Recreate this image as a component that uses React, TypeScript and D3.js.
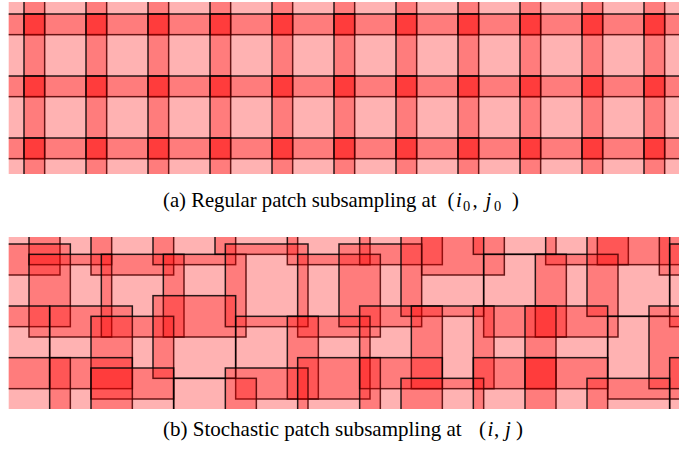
import React from 'react';
import * as d3 from 'd3';

// Regular grid: patch origins (grid units), patch size 8 units, stride 6
const gridCols = [-6, 0, 6, 12, 18, 24, 30, 36, 42, 48, 54, 60];
const gridRows = [-6, 0, 6, 12];
const patchSize = 8;

// Stochastic patches: origins (grid units), row-major
const stochCol = [
  -5, 0, 6, 12, 18, 25, 32, 38, 43, 50, 55, 61,
  -4, 0, 7, 13, 19, 26, 30, 36, 44, 49, 54, 62,
  -6, 2, 6, 12, 20, 25, 32, 37, 43, 48, 56, 60,
  -4, 2, 6, 14, 19, 26, 32, 36, 43, 48, 54, 62,
];
const stochRow = [
  -5, -6, -5, -6, -7, -6, -6, -5, -7, -6, -6, -5,
  0, 1, 1, 1, 0, 1, 0, -1, 1, 1, -1, 0,
  6, 6, 7, 5, 7, 7, 6, 6, 6, 6, 7, 6,
  11, 11, 12, 13, 12, 11, 11, 13, 11, 11, 13, 11,
];

const captionA = ['(a) Regular patch subsampling at', 'i', '0', 'j', '0'];
const captionB = ['(b) Stochastic patch subsampling at', 'i', 'j'];

const FILL = '#ff0000';
const FILL_OP = 0.3;
const STROKE = '#000';

export default function App() {
  const topX = d3.scaleLinear().domain([0, 6]).range([24, 86]);
  const topY = d3.scaleLinear().domain([0, 6]).range([14, 76]);
  const botX = d3.scaleLinear().domain([0, 6]).range([29, 91]);
  const botY = d3.scaleLinear().domain([0, 6]).range([244, 306]);

  const regular: { i: number; j: number }[] = [];
  gridRows.forEach((j) => gridCols.forEach((i) => regular.push({ i, j })));
  const stoch = stochCol.map((i, k) => ({ i, j: stochRow[k] }));

  const panelX = 8.7;
  const panelW = 670.3;
  const serif = "'Liberation Serif', 'DejaVu Serif', serif";

  const rect = (p: { i: number; j: number }, k: number, sx: any, sy: any) => (
    <rect
      key={k}
      x={sx(p.i)}
      y={sy(p.j)}
      width={sx(p.i + patchSize) - sx(p.i)}
      height={sy(p.j + patchSize) - sy(p.j)}
      fill={FILL}
      fillOpacity={FILL_OP}
      stroke={STROKE}
      strokeOpacity={0.85}
      strokeWidth={1.5}
    />
  );

  const italic = { fontFamily: serif, fontStyle: 'italic' as const };
  const sub = { fontFamily: serif, fontSize: '14.5px' };

  return (
    <svg
      width={699}
      height={453}
      style={{ position: 'absolute', left: 0, top: 0, background: '#fff' }}
    >
      <defs>
        <clipPath id="clipTop">
          <rect x={panelX} y={2} width={panelW} height={172} />
        </clipPath>
        <clipPath id="clipBot">
          <rect x={panelX} y={237} width={panelW} height={172} />
        </clipPath>
      </defs>
      <g clipPath="url(#clipTop)">{regular.map((p, k) => rect(p, k, topX, topY))}</g>
      <g clipPath="url(#clipBot)">{stoch.map((p, k) => rect(p, k, botX, botY))}</g>

      <text x={163} y={207} style={{ fontFamily: serif, fontSize: '20.7px' }} fill="#000">
        {captionA[0]}
        <tspan x={447.5}>(</tspan>
        <tspan x={456} style={italic}>{captionA[1]}</tspan>
        <tspan x={463} style={sub} dy={3.5}>{captionA[2]}</tspan>
        <tspan x={472.5} dy={-3.5}>,</tspan>
        <tspan x={485.5} style={italic}>{captionA[3]}</tspan>
        <tspan x={494} style={sub} dy={3.5}>{captionA[4]}</tspan>
        <tspan x={512} dy={-3.5}>)</tspan>
      </text>
      <text x={163} y={436} style={{ fontFamily: serif, fontSize: '21px' }} fill="#000">
        {captionB[0]}
        <tspan x={479}>(</tspan>
        <tspan x={487.5} style={italic}>{captionB[1]}</tspan>
        <tspan x={494}>,</tspan>
        <tspan x={505} style={italic}>{captionB[2]}</tspan>
        <tspan x={516}>)</tspan>
      </text>
    </svg>
  );
}
